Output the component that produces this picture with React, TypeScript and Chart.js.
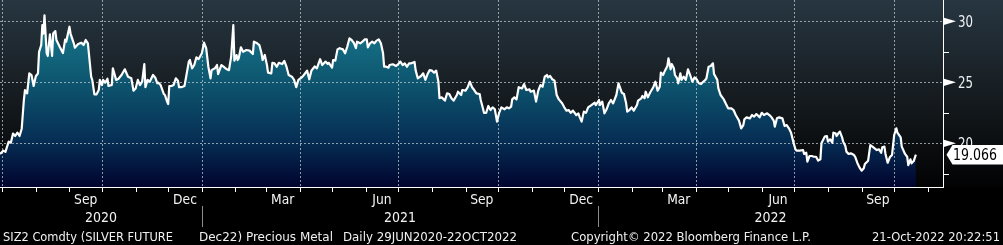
import { useEffect, useRef } from 'react';
import { Chart, registerables } from 'chart.js';

Chart.register(...registerables);

// Calendar days since 29 Jun 2020 (first day of the series)
const days = [
  0, 3, 5, 8, 10, 12, 14, 16, 18, 20, 22, 23, 25, 27, 29, 31, 33, 35, 36, 38, 39, 40, 41, 43, 44, 46, 48, 49, 51, 52, 55, 58, 60, 61, 64, 65, 68, 69, 72, 75, 77, 79, 81, 84, 85, 87, 89, 91, 92, 94, 95, 97, 99, 100, 103, 104, 107, 109, 112, 115, 118, 121, 123, 125, 127, 129, 131, 133, 134, 136, 138, 141, 143, 145,
  146, 148, 151, 152, 154, 155, 156, 158, 160, 162, 164, 165, 167, 170, 172, 174, 175, 177, 179, 181, 183, 186, 188, 190, 192, 194, 195, 198, 200, 201, 204, 206, 209, 211, 213, 215, 216, 218, 219, 220, 222, 224, 227, 230, 233, 234, 237, 239, 241, 242, 244, 246, 247, 250, 251, 253, 255, 257, 260, 262, 264, 266, 269, 271, 273, 275, 278, 280, 283, 285, 287, 290,
  292, 295, 297, 300, 302, 303, 306, 307, 309, 311, 313, 316, 318, 320, 322, 324, 326, 328, 329, 332, 334, 336, 338, 339, 341, 343, 345, 347, 349, 351, 353, 354, 356, 358, 359, 362, 365, 367, 369, 371, 373, 375, 377, 379, 382, 383, 385, 388, 390, 392, 394, 396, 398, 400, 402, 404, 405, 407, 409, 410, 412, 414, 416, 418, 421, 422, 425, 426, 429,
  431, 433, 435, 437, 439, 442, 443, 445, 446, 448, 450, 452, 454, 456, 458, 460, 462, 465, 467, 469, 471, 472, 474, 476, 478, 481, 483, 485, 488, 489, 492, 494, 496, 498, 500, 502, 504, 505, 507, 509, 511, 513, 515, 518, 520, 522, 524, 526, 528, 531, 533, 534, 536, 538, 540, 542, 545, 548, 549, 552, 553, 555, 557, 559, 561, 563, 565, 568, 570,
  573, 575, 577, 578, 580, 582, 584, 587, 588, 591, 592, 594, 595, 597, 599, 602, 604, 606, 608, 609, 611, 613, 615, 616, 618, 619, 621, 622, 624, 625, 627, 628, 630, 632, 634, 636, 638, 640, 642, 644, 646, 648, 650, 651, 653, 655, 657, 658, 661, 662, 664, 667, 669, 671, 674, 676, 678, 681, 683, 685, 686, 688, 691, 693, 695, 697, 700, 702, 704, 707, 709, 711, 713, 714, 716, 718,
  721, 723, 725, 727, 729, 731, 733, 734, 737, 740, 741, 743, 744, 746, 748, 750, 752, 754, 756, 757, 760, 762, 763, 765, 767, 768, 770, 771, 773, 774, 776, 777, 779, 780, 782, 784, 787, 788, 790, 792, 794, 796, 797, 800, 802, 804, 806, 808, 810, 812, 813, 815, 816, 818, 820, 822, 824, 826, 827, 830, 831, 834, 836, 837, 839, 840, 842, 844,
];

// SIZ2 settle prices (USD/oz)
const prices = [
  19.13, 19.4, 19.3, 20.14, 20.05, 20.8, 20.6, 20.87, 20.6, 21.2, 23.55, 24.37, 24.1, 25.74, 25.6, 24.7, 25.5, 25.74, 27.5, 28.06, 29.7, 29.0, 30.5, 27.4, 27.16, 28.93, 27.16, 29.0, 29.2, 28.47, 27.92, 27.4, 28.5, 28.33, 29.56, 29.0, 28.2, 27.84, 28.14, 28.25, 28.06, 28.47, 28.2, 25.46, 25.2, 24.02, 24.02, 24.37, 25.2, 24.78, 25.2, 24.97, 25.3, 24.7, 24.78, 26.15, 25.2, 25.27, 25.6, 26.07, 25.46, 25.33, 24.32, 24.5, 25.2, 24.78, 25.05, 26.5, 24.6, 25.2, 25.05, 25.6, 25.4, 24.92,
  24.97, 24.78, 24.04, 23.96, 23.42, 23.22, 24.7, 24.7, 24.78, 25.33, 25.14, 24.6, 24.6, 24.7, 25.68, 26.7, 26.83, 26.15, 26.42, 27.05, 26.9, 27.38, 28.25, 27.8, 26.28, 25.33, 26.0, 26.15, 26.42, 25.68, 26.42, 26.28, 26.07, 26.0, 27.1, 29.7, 26.78, 27.24, 26.83, 26.97, 27.87, 27.5, 27.65, 27.6, 27.32, 28.33, 28.2, 28.06, 27.38, 26.83, 27.24, 26.42, 25.8, 25.74, 26.6, 26.56, 26.28, 26.6, 26.5, 26.75, 26.28, 25.6, 25.46, 25.2, 24.6, 25.2, 25.4, 25.6, 25.96, 25.25, 25.96, 26.3,
  26.15, 26.9, 26.42, 26.7, 26.5, 26.6, 26.2, 26.83, 26.78, 27.7, 27.8, 27.7, 27.38, 27.92, 28.6, 28.47, 28.25, 27.8, 28.33, 28.2, 28.33, 28.52, 28.52, 27.87, 28.2, 28.33, 28.2, 28.42, 28.52, 28.2, 27.38, 26.28, 26.28, 26.2, 26.42, 26.48, 26.34, 26.5, 26.7, 26.42, 26.56, 26.28, 26.56, 26.56, 26.67, 26.0, 25.33, 25.52, 25.74, 25.2, 25.68, 26.0, 25.96, 25.8, 25.96, 25.05, 23.7, 23.77, 23.6, 23.5, 24.1, 24.04, 23.7, 23.5, 23.96, 24.23, 23.96, 24.37, 24.32,
  24.6, 25.05, 24.6, 24.37, 24.1, 24.04, 23.55, 22.87, 22.5, 22.5, 23.06, 22.73, 22.95, 22.79, 21.78, 22.5, 22.95, 22.79, 22.95, 22.87, 23.0, 23.6, 23.77, 23.6, 24.6, 24.5, 24.86, 24.37, 24.42, 24.23, 24.32, 23.42, 24.32, 24.78, 24.64, 25.46, 25.6, 25.4, 25.52, 25.25, 25.14, 23.96, 23.6, 23.28, 22.95, 22.68, 22.73, 22.5, 22.68, 22.32, 22.46, 22.19, 21.78, 22.6, 22.5, 22.95, 23.14, 23.33, 23.14, 23.55, 23.14, 23.42, 22.46, 22.79, 23.28, 23.55, 23.28, 23.96, 24.92,
  24.15, 24.04, 23.28, 22.6, 22.73, 22.95, 22.68, 23.14, 23.5, 23.69, 23.88, 23.69, 24.23, 23.77, 24.15, 24.6, 25.05, 24.32, 24.64, 25.8, 25.6, 26.0, 26.34, 26.97, 26.07, 26.5, 26.15, 25.6, 25.33, 24.92, 25.74, 25.2, 25.46, 25.2, 26.07, 25.6, 25.05, 25.4, 25.25, 24.92, 24.86, 25.05, 25.2, 25.33, 26.28, 26.34, 26.56, 25.68, 25.2, 24.5, 23.96, 23.6, 23.22, 22.87, 22.87, 22.73, 22.32, 21.86, 21.23, 21.5, 21.97, 22.13, 22.05, 22.32, 22.19, 22.4, 22.13, 22.5, 22.32, 22.46, 22.32, 22.13, 21.86, 21.37, 22.05, 22.13,
  22.05, 21.42, 21.5, 21.23, 20.87, 20.14, 19.51, 19.4, 19.4, 19.45, 19.13, 19.23, 18.5, 18.96, 18.96, 18.9, 18.9, 18.58, 18.69, 20.0, 20.55, 20.6, 20.14, 20.33, 20.05, 20.87, 20.82, 20.6, 20.87, 20.96, 20.49, 20.14, 19.78, 19.32, 19.13, 19.18, 19.04, 18.9, 18.41, 18.03, 17.76, 17.95, 18.31, 18.58, 19.86, 19.73, 19.59, 19.45, 19.51, 19.23, 19.67, 19.73, 19.13, 18.41, 18.85, 19.04, 20.68, 21.23, 20.87, 20.49, 19.73, 19.13, 18.9, 18.22, 18.69, 18.36, 18.55, 19.066,
];

const lastPriceLabel = '19.066';
const yMajorTicks = [20, 25, 30];
const yMinorTicks = [17.5, 22.5, 27.5];
const quarterLabelMonths = [
  [2020, 9], [2020, 12], [2021, 3], [2021, 6], [2021, 9], [2021, 12], [2022, 3], [2022, 6], [2022, 9],
];
const monthNames = ['Jan', 'Feb', 'Mar', 'Apr', 'May', 'Jun', 'Jul', 'Aug', 'Sep', 'Oct', 'Nov', 'Dec'];
const yearLabels = [2020, 2021, 2022];
const footerTexts = [
  'SIZ2 Comdty (SILVER FUTURE',
  'Dec22) Precious Metal',
  'Daily 29JUN2020-22OCT2022',
  'Copyright\u00A9 2022 Bloomberg Finance L.P.',
  '21-Oct-2022 20:22:51',
];

const START = Date.UTC(2020, 5, 29);
const dayOf = (y: number, m: number, d: number) =>
  Math.round((Date.UTC(y, m - 1, d) - START) / 86400000);

const X_MIN = 0;
const X_MAX = dayOf(2022, 11, 15);
const Y_MIN = 16.42;
const Y_MAX = 31.75;

const FONT = '"DejaVu Sans", Verdana, sans-serif';

function drawText(
  ctx: CanvasRenderingContext2D,
  s: string,
  x: number,
  y: number,
  size: number,
  color: string,
  align: 'left' | 'center',
  targetW?: number,
  scaleX = 0.86,
) {
  ctx.save();
  ctx.font = `${size}px ${FONT}`;
  const w = ctx.measureText(s).width;
  const sc = targetW ? targetW / w : scaleX;
  const dw = w * sc;
  const left = align === 'center' ? x - dw / 2 : x;
  ctx.translate(left, y);
  ctx.scale(sc, 1);
  ctx.fillStyle = color;
  ctx.textAlign = 'left';
  ctx.textBaseline = 'alphabetic';
  ctx.fillText(s, 0, 0);
  ctx.restore();
}

const bbgPlugin = {
  id: 'bbg',
  beforeDraw(chart: any) {
    const { ctx, width, height, chartArea } = chart;
    ctx.save();
    ctx.fillStyle = '#000';
    ctx.fillRect(0, 0, width, height);
    const g = ctx.createLinearGradient(0, chartArea.top, 0, chartArea.bottom);
    g.addColorStop(0, 'rgb(39,54,65)');
    g.addColorStop(0.45, 'rgb(24,31,36)');
    g.addColorStop(0.75, 'rgb(12,15,17)');
    g.addColorStop(1, 'rgb(2,2,3)');
    ctx.fillStyle = g;
    ctx.fillRect(0, 0, width, chartArea.bottom);
    ctx.restore();
  },
  beforeDatasetDraw(chart: any, args: any) {
    if (args.index !== 0) return;
    const { ctx, chartArea, scales } = chart;
    const xs = scales.x;
    const ys = scales.y;
    ctx.save();
    ctx.strokeStyle = 'rgba(190,200,205,0.75)';
    ctx.lineWidth = 1;
    ctx.setLineDash([2, 2]);
    for (const v of yMajorTicks) {
      const y = Math.round(ys.getPixelForValue(v)) + 0.5;
      ctx.beginPath();
      ctx.moveTo(chartArea.left, y);
      ctx.lineTo(chartArea.right, y);
      ctx.stroke();
    }
    for (let yr = 2020; yr <= 2022; yr++) {
      for (const m of [1, 4, 7, 10]) {
        const d = dayOf(yr, m, 1);
        if (d <= X_MIN || d >= X_MAX) continue;
        const x = Math.round(xs.getPixelForValue(d)) + 0.5;
        ctx.beginPath();
        ctx.moveTo(x, chartArea.top);
        ctx.lineTo(x, chartArea.bottom);
        ctx.stroke();
      }
    }
    ctx.restore();
  },
  afterDraw(chart: any) {
    const { ctx, chartArea, scales, width } = chart;
    const xs = scales.x;
    const ys = scales.y;
    const R = chartArea.right;
    const B = chartArea.bottom;
    ctx.save();
    // axis lines
    ctx.fillStyle = '#ffffff';
    ctx.fillRect(chartArea.left, B, R - chartArea.left + 1, 1);
    ctx.fillRect(R, 0, 1, B + 1);
    // month ticks
    for (let yr = 2020; yr <= 2022; yr++) {
      for (let m = 1; m <= 12; m++) {
        const d = dayOf(yr, m, 1);
        if (d <= X_MIN || d >= X_MAX) continue;
        const x = Math.round(xs.getPixelForValue(d));
        ctx.fillRect(x, B, 1, 5);
      }
    }
    // minor y ticks
    for (const v of yMinorTicks) {
      const y = Math.round(ys.getPixelForValue(v));
      ctx.fillRect(R, y, 6, 1);
    }
    // major y ticks: triangles + labels
    for (const v of yMajorTicks) {
      const y = ys.getPixelForValue(v);
      ctx.fillStyle = '#ffffff';
      ctx.beginPath();
      ctx.moveTo(R, y - 3.8);
      ctx.lineTo(R + 13, y);
      ctx.lineTo(R, y + 3.8);
      ctx.closePath();
      ctx.fill();
      drawText(ctx, String(v), R + 15, y + 5.8, 15, '#eef2f4', 'left', 15);
    }
    // last value box
    const ly = ys.getPixelForValue(prices[prices.length - 1]);
    ctx.fillStyle = '#ffffff';
    ctx.beginPath();
    ctx.moveTo(R + 3.5, ly);
    ctx.lineTo(R + 9.5, ly - 9.8);
    ctx.lineTo(width, ly - 9.8);
    ctx.lineTo(width, ly + 9.8);
    ctx.lineTo(R + 9.5, ly + 9.8);
    ctx.closePath();
    ctx.fill();
    drawText(ctx, lastPriceLabel, R + 10, ly + 5.5, 15, '#000000', 'left', 44);

    // month labels
    for (const [yr, m] of quarterLabelMonths) {
      const d0 = dayOf(yr, m, 1);
      const d1 = m === 12 ? dayOf(yr + 1, 1, 1) : dayOf(yr, m + 1, 1);
      const cx = (xs.getPixelForValue(d0) + xs.getPixelForValue(d1)) / 2;
      drawText(ctx, monthNames[m - 1], cx, B + 17, 14, '#f4f4f4', 'center', undefined, 0.88);
    }
    // year labels + separators
    for (const yr of yearLabels) {
      const a = Math.max(chartArea.left, xs.getPixelForValue(dayOf(yr, 1, 1)));
      const b = Math.min(R, xs.getPixelForValue(dayOf(yr + 1, 1, 1)));
      drawText(ctx, String(yr), (a + b) / 2, B + 35, 14, '#f4f4f4', 'center', 32);
      const sd = dayOf(yr, 1, 1);
      if (sd > X_MIN) {
        const sx = Math.round(xs.getPixelForValue(sd));
        ctx.fillStyle = '#8c8c8c';
        ctx.fillRect(sx, B + 19, 1, 21);
      }
    }
    // footer
    const fy = B + 54;
    drawText(ctx, footerTexts[0], 3, fy, 13, '#f0f0f0', 'left', 170);
    drawText(ctx, footerTexts[1], 199, fy, 13, '#f0f0f0', 'left', 134);
    drawText(ctx, footerTexts[2], 343, fy, 13, '#f0f0f0', 'left', 174);
    drawText(ctx, footerTexts[3], 571, fy, 13, '#f0f0f0', 'left', 240);
    drawText(ctx, footerTexts[4], 872, fy, 13, '#f0f0f0', 'left', 128);
    ctx.restore();
  },
};

export default function App() {
  const ref = useRef<HTMLCanvasElement | null>(null);

  useEffect(() => {
    document.body.style.margin = '0';
    document.body.style.background = '#000';
    const canvas = ref.current;
    if (!canvas) return;
    const points = days.map((d, i) => ({ x: d, y: prices[i] }));
    const fillGradient = (c: any) => {
      const { chart } = c;
      const area = chart.chartArea;
      if (!area) return 'rgb(10,60,90)';
      const g = chart.ctx.createLinearGradient(0, area.top, 0, area.bottom);
      g.addColorStop(0, 'rgb(26,130,148)');
      g.addColorStop(0.25, 'rgb(19,106,128)');
      g.addColorStop(0.5, 'rgb(12,78,106)');
      g.addColorStop(0.75, 'rgb(6,46,84)');
      g.addColorStop(1, 'rgb(1,4,46)');
      return g;
    };
    const chart = new Chart(canvas, {
      type: 'line',
      data: {
        datasets: [
          {
            data: points,
            borderColor: '#ffffff',
            borderWidth: 2.2,
            borderJoinStyle: 'round',
            fill: false,
            pointRadius: 0,
            tension: 0,
          },
          {
            data: points,
            borderWidth: 0,
            borderColor: 'rgba(0,0,0,0)',
            backgroundColor: fillGradient,
            fill: 'start',
            pointRadius: 0,
            tension: 0,
          },
        ],
      },
      options: {
        animation: false,
        responsive: false,
        maintainAspectRatio: false,
        devicePixelRatio: 1,
        events: [],
        layout: { padding: { left: 0, top: 0, right: 60, bottom: 58 } },
        scales: {
          x: { type: 'linear', display: false, min: X_MIN, max: X_MAX },
          y: { type: 'linear', display: false, min: Y_MIN, max: Y_MAX },
        },
        plugins: {
          legend: { display: false },
          tooltip: { enabled: false },
        },
      },
      plugins: [bbgPlugin],
    } as any);
    return () => chart.destroy();
  }, []);

  return (
    <canvas
      ref={ref}
      width={1003}
      height={245}
      style={{ display: 'block', width: 1003, height: 245 }}
    />
  );
}
